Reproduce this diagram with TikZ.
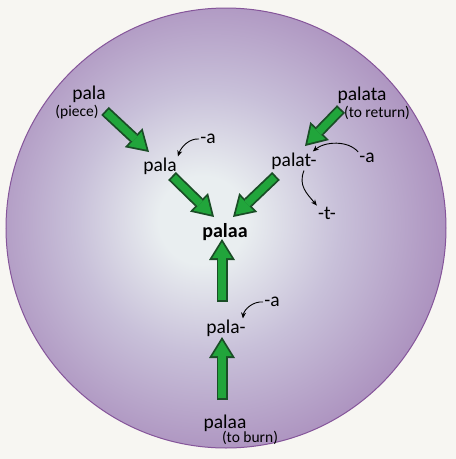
\documentclass[tikz,border=0pt]{standalone}
\usepackage{fontspec}
\setmainfont{Carlito}
\usetikzlibrary{arrows.meta}

\definecolor{bgcream}{HTML}{F7F6F2}
\definecolor{orbcore}{HTML}{E9EEF0}
\definecolor{orbsoft}{HTML}{C8C0D9}
\definecolor{orbmid}{HTML}{A98DBC}
\definecolor{orbdeep}{HTML}{9669A8}
\definecolor{orbrim}{HTML}{85559A}
\definecolor{arrowgreen}{HTML}{21A53B}
\definecolor{arrowrim}{HTML}{1A4D26}

\pgfdeclareradialshading{orb}{\pgfpoint{-3bp}{1bp}}{color(0bp)=(orbcore); color(5bp)=(orbcore); color(15bp)=(orbsoft); color(28bp)=(orbmid); color(43bp)=(orbdeep); color(50bp)=(orbrim)}

\begin{document}
\begin{tikzpicture}[x=1pt, y=-1pt,
    word/.style={font=\fontsize{19.5}{22}\selectfont, inner sep=1pt},
    gloss/.style={font=\fontsize{15.5}{17}\selectfont, inner sep=1pt},
    fatrim/.style={draw=arrowrim, line width=11pt, -{Triangle[width=26pt, length=21pt, line width=0pt]}},
    fatbody/.style={draw=arrowgreen, line width=7.4pt, -{Triangle[width=19.6pt, length=15.8pt, line width=0pt]}, shorten >=3.4pt, shorten <=1.8pt},
    affix/.style={-{Stealth[length=6pt, width=5pt]}, line width=0.9pt}]
    \useasboundingbox (0,0) rectangle (456,459);
    \fill[bgcream] (0,0) rectangle (456,459);
    \shade[shading=orb] (226,228) circle (220);
    \draw[orbrim, line width=1pt] (226,228) circle (220);

    % words
    \node[word] (palaP) at (89,94) {pala};
    \node[gloss] (pieceN) at (77,112) {(piece)};
    \node[word] (palaL) at (160,166) {pala};
    \node[word] (sufL) at (208,139) {-a};
    \node[word] (palataN) at (362,95) {palata};
    \node[gloss] (returnN) at (377,113) {(to return)};
    \node[word] (palatN) at (294,161) {palat-};
    \node[word] (sufR) at (367,158) {-a};
    \node[word] (infixT) at (327,213) {-t-};
    \node[word, font=\fontsize{20}{22}\selectfont\bfseries] (palaaB) at (225,232) {palaa};
    \node[word] (sufD) at (272,302) {-a};
    \node[word] (palaD) at (226,328) {pala-};
    \node[word] (palaaO) at (225,423) {palaa};
    \node[gloss] (burnN) at (250,438) {(to burn)};

    % ends of the green arrows
    \coordinate (pieceOut) at (105,111);
    \coordinate (palaLIn) at (149,152);
    \coordinate (palaLOut) at (172,176);
    \coordinate (palaaInL) at (214,217);
    \coordinate (palataOut) at (341,109);
    \coordinate (palatIn) at (305,146);
    \coordinate (palatOut) at (276,176);
    \coordinate (palaaInR) at (233,217);
    \coordinate (palaDOut) at (222,302);
    \coordinate (palaaInD) at (222,239);
    \coordinate (burnOut) at (222,400);
    \coordinate (palaDIn) at (222,337);

    \foreach \from/\to in {pieceOut/palaLIn, palaLOut/palaaInL, palataOut/palatIn,
        palatOut/palaaInR, palaDOut/palaaInD, burnOut/palaDIn} {
      \draw[fatrim] (\from) -- (\to);
      \draw[fatbody] (\from) -- (\to);
    }

    % affixes
    \draw[affix] (sufL.west) .. controls +(-10,-1) and +(3,-9) .. (palaL.north east);
    \draw[affix] (sufR.north west) .. controls +(-10,-12) and +(12,-10) .. ([xshift=-5pt]palatN.north east);
    \draw[affix] ([xshift=10pt]palatN.south) .. controls +(-6,15) and +(-10,-12) .. (infixT.north west);
    \draw[affix] (sufD.west) .. controls +(-10,-1) and +(1,-9) .. ([xshift=-4pt]palaD.north east);
\end{tikzpicture}
\end{document}
